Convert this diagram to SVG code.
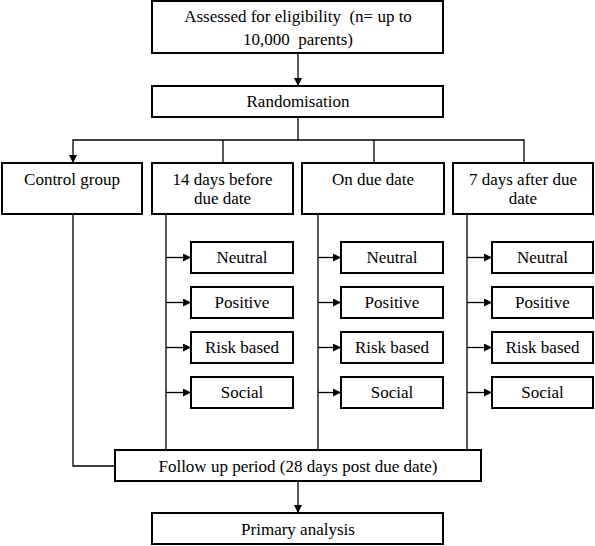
<svg xmlns="http://www.w3.org/2000/svg" width="595" height="546" viewBox="0 0 595 546">
<style>
.box{fill:#fff;stroke:#000;stroke-width:2}
.t{font-family:"Liberation Serif","Times New Roman",serif;font-size:17px;fill:#000;text-anchor:middle}
.c{fill:none;stroke:#000;stroke-width:1.3}
</style>
<defs>
<marker id="ah" viewBox="0 0 10 10" refX="10" refY="5" markerWidth="8" markerHeight="8" markerUnits="userSpaceOnUse" orient="auto">
<path d="M0,0 L10,5 L0,10 z" fill="#000"/>
</marker>
</defs>
<rect width="595" height="546" fill="#fff"/>
<g id="connectors">
<path class="c" d="M298,53 V86" marker-end="url(#ah)"/>
<path class="c" d="M298,117 V140 H73 V163" marker-end="url(#ah)"/>
<path class="c" d="M223,140 V163"/>
<path class="c" d="M298,140 H524 V163"/>
<path class="c" d="M374,140 V163"/>
<path class="c" d="M73,214 V466 H115"/>
<path class="c" d="M166,214 V450"/>
<path class="c" d="M318,214 V450"/>
<path class="c" d="M467,214 V450"/>
<path class="c" d="M166,257.5 H191" marker-end="url(#ah)"/>
<path class="c" d="M166,302.5 H191" marker-end="url(#ah)"/>
<path class="c" d="M166,347.5 H191" marker-end="url(#ah)"/>
<path class="c" d="M166,392.5 H191" marker-end="url(#ah)"/>
<path class="c" d="M318,257.5 H341" marker-end="url(#ah)"/>
<path class="c" d="M318,302.5 H341" marker-end="url(#ah)"/>
<path class="c" d="M318,347.5 H341" marker-end="url(#ah)"/>
<path class="c" d="M318,392.5 H341" marker-end="url(#ah)"/>
<path class="c" d="M467,257.5 H492" marker-end="url(#ah)"/>
<path class="c" d="M467,302.5 H492" marker-end="url(#ah)"/>
<path class="c" d="M467,347.5 H492" marker-end="url(#ah)"/>
<path class="c" d="M467,392.5 H492" marker-end="url(#ah)"/>
<path class="c" d="M298,481 V513" marker-end="url(#ah)"/>
</g>
<g id="assessed"><rect class="box" x="152" y="1" width="291" height="52"/>
<text class="t" x="298" y="22" xml:space="preserve">Assessed for eligibility  (n= up to</text>
<text class="t" x="298" y="45" xml:space="preserve">10,000  parents)</text></g>
<g id="randomisation"><rect class="box" x="152" y="86" width="291" height="31"/>
<text class="t" x="298" y="107">Randomisation</text></g>
<g id="control"><rect class="box" x="2" y="163" width="140" height="51"/>
<text class="t" x="72" y="185">Control group</text></g>
<g id="before14"><rect class="box" x="152" y="163" width="141" height="51"/>
<text class="t" x="222.5" y="185">14 days before</text>
<text class="t" x="222.5" y="204">due date</text></g>
<g id="ondue"><rect class="box" x="302" y="163" width="142" height="51"/>
<text class="t" x="373" y="185">On due date</text></g>
<g id="after7"><rect class="box" x="453" y="163" width="140" height="51"/>
<text class="t" x="523" y="185">7 days after due</text>
<text class="t" x="523" y="204">date</text></g>
<g id="a-neutral"><rect class="box" x="191" y="242" width="102" height="31"/><text class="t" x="242" y="263">Neutral</text></g>
<g id="a-positive"><rect class="box" x="191" y="287" width="102" height="31"/><text class="t" x="242" y="308">Positive</text></g>
<g id="a-risk"><rect class="box" x="191" y="332" width="102" height="31"/><text class="t" x="242" y="353">Risk based</text></g>
<g id="a-social"><rect class="box" x="191" y="377" width="102" height="31"/><text class="t" x="242" y="398">Social</text></g>
<g id="b-neutral"><rect class="box" x="341" y="242" width="102" height="31"/><text class="t" x="392" y="263">Neutral</text></g>
<g id="b-positive"><rect class="box" x="341" y="287" width="102" height="31"/><text class="t" x="392" y="308">Positive</text></g>
<g id="b-risk"><rect class="box" x="341" y="332" width="102" height="31"/><text class="t" x="392" y="353">Risk based</text></g>
<g id="b-social"><rect class="box" x="341" y="377" width="102" height="31"/><text class="t" x="392" y="398">Social</text></g>
<g id="c-neutral"><rect class="box" x="492" y="242" width="101" height="31"/><text class="t" x="542.5" y="263">Neutral</text></g>
<g id="c-positive"><rect class="box" x="492" y="287" width="101" height="31"/><text class="t" x="542.5" y="308">Positive</text></g>
<g id="c-risk"><rect class="box" x="492" y="332" width="101" height="31"/><text class="t" x="542.5" y="353">Risk based</text></g>
<g id="c-social"><rect class="box" x="492" y="377" width="101" height="31"/><text class="t" x="542.5" y="398">Social</text></g>
<g id="followup"><rect class="box" x="115" y="450" width="366" height="31"/>
<text class="t" x="298" y="472">Follow up period (28 days post due date)</text></g>
<g id="primary"><rect class="box" x="152" y="513" width="291" height="31"/>
<text class="t" x="298" y="535">Primary analysis</text></g>
</svg>
